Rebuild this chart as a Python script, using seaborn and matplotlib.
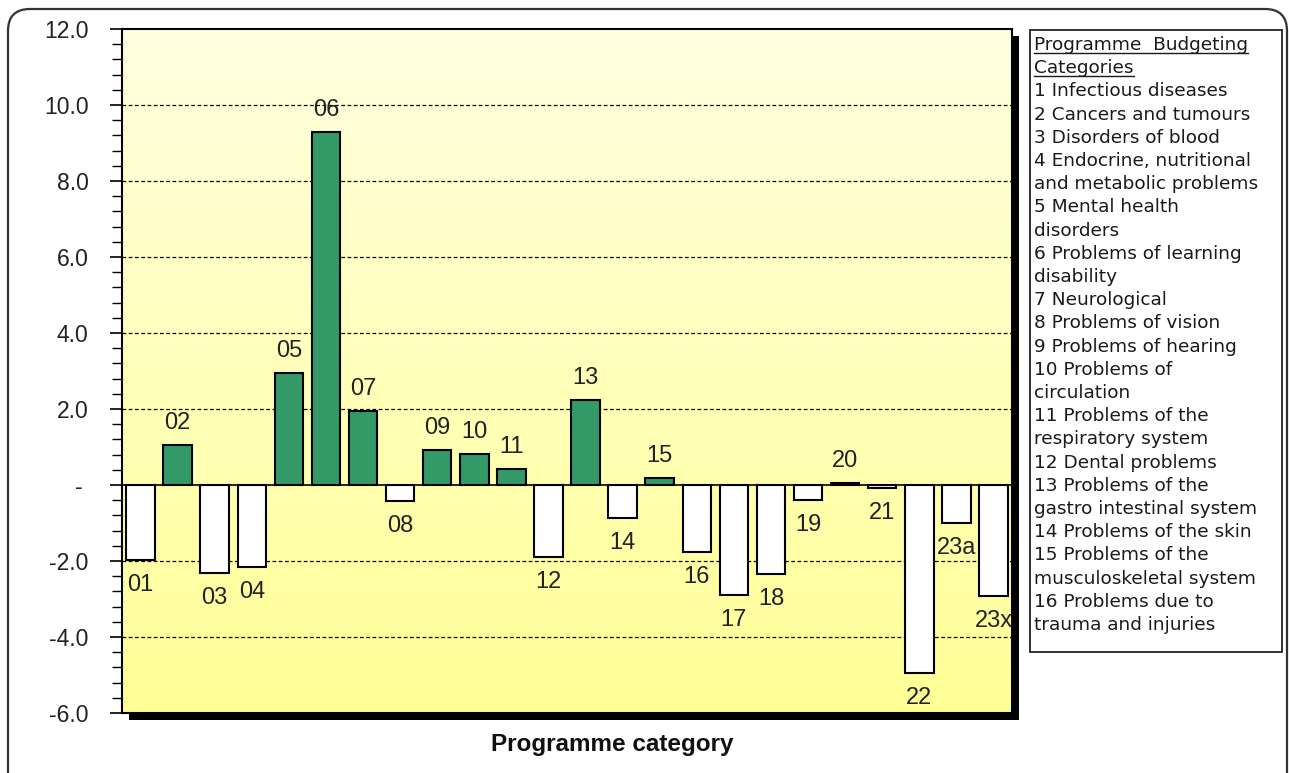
import numpy as np
import pandas as pd
import matplotlib
matplotlib.use("Agg")
import matplotlib.pyplot as plt
import seaborn as sns
from matplotlib.patches import Rectangle, FancyBboxPatch
from matplotlib.lines import Line2D
from matplotlib.transforms import IdentityTransform
from matplotlib.ticker import MultipleLocator, FuncFormatter

# Programme categories and their values
categories = ["01", "02", "03", "04", "05", "06", "07", "08", "09", "10",
              "11", "12", "13", "14", "15", "16", "17", "18", "19", "20",
              "21", "22", "23a", "23x"]
values = [-1.98, 1.05, -2.31, -2.17, 2.96, 9.30, 1.96, -0.43, 0.91, 0.82,
          0.42, -1.89, 2.24, -0.88, 0.19, -1.76, -2.89, -2.35, -0.39, 0.06,
          -0.08, -4.94, -1.00, -2.91]

key_title = ["Programme  Budgeting", "Categories"]
key_lines = [
    "1 Infectious diseases",
    "2 Cancers and tumours",
    "3 Disorders of blood",
    "4 Endocrine, nutritional",
    "and metabolic problems",
    "5 Mental health",
    "disorders",
    "6 Problems of learning",
    "disability",
    "7 Neurological",
    "8 Problems of vision",
    "9 Problems of hearing",
    "10 Problems of",
    "circulation",
    "11 Problems of the",
    "respiratory system",
    "12 Dental problems",
    "13 Problems of the",
    "gastro intestinal system",
    "14 Problems of the skin",
    "15 Problems of the",
    "musculoskeletal system",
    "16 Problems due to",
    "trauma and injuries",
]

W, H = 1289, 773
fig = plt.figure(figsize=(W / 100, H / 100), dpi=100)
fig.patch.set_facecolor("white")

ax_l, ax_r, ax_t, ax_b = 122, 1012, 29, 713
ax = fig.add_axes([ax_l / W, 1 - ax_b / H, (ax_r - ax_l) / W, (ax_b - ax_t) / H])

df = pd.DataFrame({"category": categories, "value": values})
df["sign"] = np.where(df["value"] >= 0, "pos", "neg")

sns.barplot(data=df, x="category", y="value", hue="sign",
            palette={"pos": "#339966", "neg": "#ffffff"}, dodge=False,
            saturation=1, width=0.77, edgecolor="black", linewidth=1.5,
            legend=False, ax=ax, zorder=3)

ymin, ymax = -6, 12
xmin, xmax = -0.5, len(categories) - 0.5

# yellow gradient plot background
grad = np.linspace(0, 1, 256).reshape(-1, 1)
top = np.array([255, 255, 224]) / 255
bot = np.array([255, 255, 150]) / 255
img = bot + (top - bot) * grad[..., None]
img = np.repeat(img, 2, axis=1)
ax.imshow(img, extent=(xmin, xmax, ymin, ymax), origin="lower",
          aspect="auto", zorder=0, interpolation="bilinear")
ax.set_xlim(xmin, xmax)
ax.set_ylim(ymin, ymax)

for gy in [-4, -2, 2, 4, 6, 8, 10]:
    ax.axhline(gy, color="black", lw=0.9, ls=(0, (3, 2)), zorder=1)
ax.axhline(0, color="black", lw=1.2, zorder=2)

label_font = dict(family="Liberation Sans", size=17, color="#222222")

ax.yaxis.set_major_locator(MultipleLocator(2))
ax.yaxis.set_minor_locator(MultipleLocator(0.4))
ax.yaxis.set_major_formatter(
    FuncFormatter(lambda v, p: "- " if abs(v) < 1e-9 else f"{v:.1f}"))
ax.tick_params(axis="y", which="major", direction="out", length=9,
               width=1.2, pad=15, colors="black")
ax.tick_params(axis="y", which="minor", direction="out", length=7,
               width=1.0, colors="black")
for t in ax.get_yticklabels():
    t.set_fontfamily("Liberation Sans")
    t.set_fontsize(16.5)
    t.set_color("#222222")
ax.set_xticks([])
ax.set_xlabel("")
ax.set_ylabel("")
for s in ax.spines.values():
    s.set_color("black")
    s.set_linewidth(1.5)

# category labels at the outer end of each bar
for i, (c, v) in enumerate(zip(categories, values)):
    off = 22 if v >= 0 else -25
    ax.annotate(c, (i, v), xytext=(0, off * 0.72), textcoords="offset points",
                ha="center", va="center", zorder=4, **label_font)

# drop shadow behind the plot area
shadow = Rectangle((ax_l + 7, H - ax_b - 7), ax_r - ax_l, ax_b - ax_t,
                   transform=IdentityTransform(), facecolor="black",
                   edgecolor="none", zorder=-1)
fig.add_artist(shadow)

# outer rounded frame
frame = FancyBboxPatch((8, -40), 1279, H - 9 + 40,
                       boxstyle="round,pad=0,rounding_size=22",
                       transform=IdentityTransform(), facecolor="none",
                       edgecolor="#333333", lw=1.6, zorder=5)
fig.add_artist(frame)

fig.text(612 / W, 1 - 745 / H, "Programme category", ha="center",
         va="center", family="Liberation Sans", size=17.5,
         fontweight="bold", color="#111111")

# category key box
box = Rectangle((1030, H - 652), 252, 622, transform=IdentityTransform(),
                facecolor="white", edgecolor="#222222", lw=1.3, zorder=5)
fig.add_artist(box)

key_font = dict(family="DejaVu Sans", size=13.3, color="#1a1a1a")
y0, step = 45, 23.2
title_texts = []
for k, line in enumerate(key_title + key_lines):
    t = fig.text(1034 / W, 1 - (y0 + k * step) / H, line, ha="left",
                 va="center", zorder=6, **key_font)
    if k < len(key_title):
        title_texts.append(t)

fig.canvas.draw()
renderer = fig.canvas.get_renderer()
for t in title_texts:
    bb = t.get_window_extent(renderer)
    fig.add_artist(Line2D([bb.x0, bb.x1], [bb.y0 + 1, bb.y0 + 1],
                          transform=IdentityTransform(), color="#1a1a1a",
                          lw=1.0, zorder=6))

fig.savefig("out.png", dpi=100)
